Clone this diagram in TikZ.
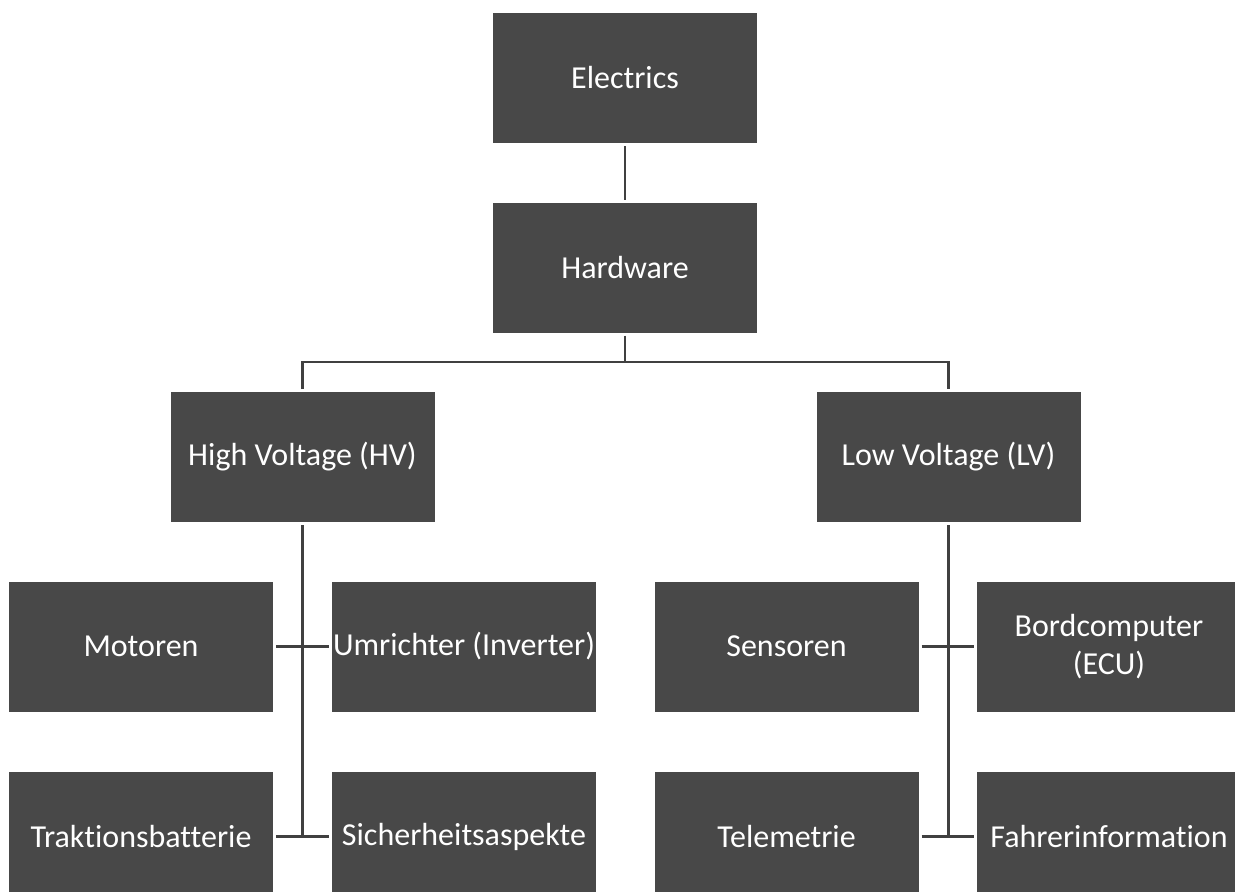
\documentclass[tikz,border=0pt]{standalone}
\usepackage{fontspec}
\setmainfont{Carlito}[Ligatures={NoCommon}]
\definecolor{boxgray}{HTML}{484848}
\definecolor{linegray}{HTML}{404040}
\begin{document}
\begin{tikzpicture}[x=0.75pt,y=-0.75pt,
  box/.style={fill=boxgray, draw=none, text=white, minimum width=198pt, minimum height=97.5pt,
    inner sep=0pt, outer sep=2.25pt, align=center, font=\fontsize{24}{28.5}\selectfont},
  conn/.style={draw=linegray, line width=1.8pt}]
\useasboundingbox (0,0) rectangle (1235,892);
\node[box] (el) at (625,78) {Electrics};
\node[box] (hw) at (625,267.5) {Hardware};
\node[box] (hv) at (302.5,457) {High Voltage (HV)};
\node[box] (lv) at (948.5,457) {Low Voltage (LV)};
\node[box] (mo) at (141,646.5) {Motoren};
\node[box] (um) at (464,646.5) {Umrichter (Inverter)};
\node[box] (se) at (786.5,646.5) {Sensoren};
\node[box] (bo) at (1109,646.5) {Bordcomputer\\(ECU)};
\node[box] (tb) at (141,836.5) {Traktionsbatterie};
\node[box] (si) at (464,836.5) {Sicherheitsaspekte};
\node[box] (te) at (786.5,836.5) {Telemetrie};
\node[box] (fa) at (1109,836.5) {Fahrerinformation};
\coordinate (bus) at (625,362);
\draw[conn] (el) -- (hw);
\draw[conn] (hw.south) -- (bus);
\draw[conn] (hv.north) |- (bus) -| (lv.north);
\draw[conn] (hv.south) -- (hv.south |- tb.east);
\draw[conn] (lv.south) -- (lv.south |- te.east);
\draw[conn] (mo.east) -- (um.west);
\draw[conn] (tb.east) -- (si.west);
\draw[conn] (se.east) -- (bo.west);
\draw[conn] (te.east) -- (fa.west);
\end{tikzpicture}
\end{document}
